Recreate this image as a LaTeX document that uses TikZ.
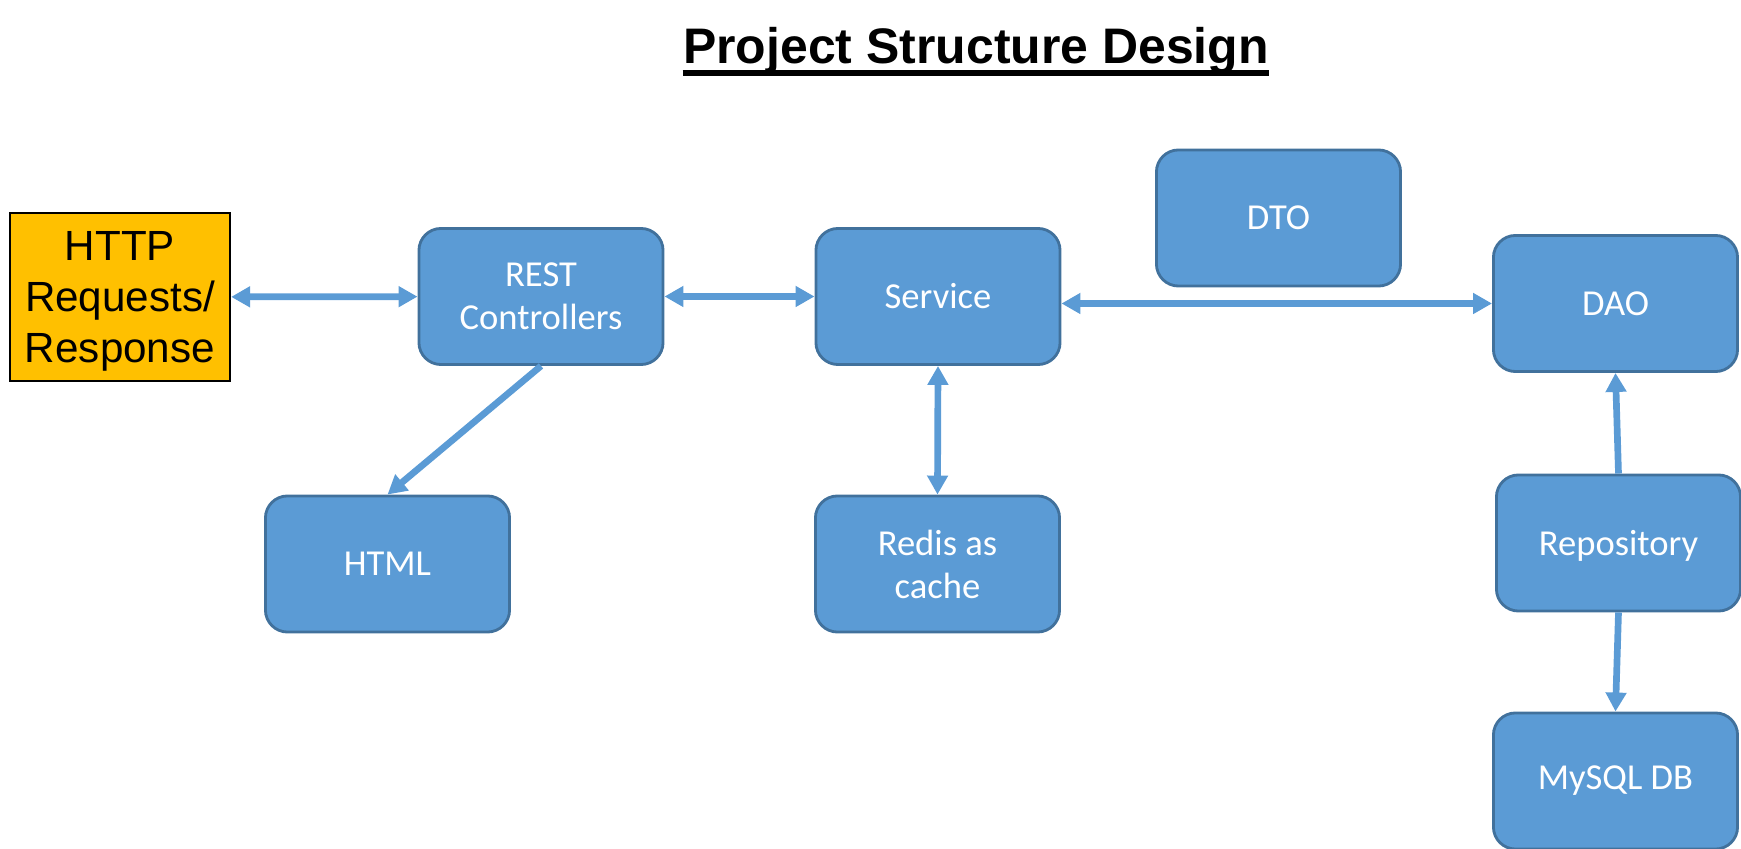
\documentclass[tikz,border=0pt]{standalone}
\usepackage{fontspec}
\setmainfont{Carlito}
\newfontfamily\httpfont{Liberation Sans}
\newfontfamily\titlefont{Liberation Sans}
\usetikzlibrary{arrows.meta, positioning}
\definecolor{boxblue}{HTML}{5B9BD5}
\definecolor{boxline}{HTML}{41719C}
\definecolor{httporange}{HTML}{FFC000}
\tikzset{
  block/.style={draw=boxline, line width=0.8pt, fill=boxblue, rounded corners=0.22cm,
    minimum width=2.44cm, minimum height=1.36cm, inner sep=0pt, align=center,
    text=white, font=\fontsize{10.4pt}{12.2pt}\selectfont},
  link/.style={draw=boxblue, line width=1.9pt, >={Triangle[length=0.19cm,width=0.2cm]}}
}

\begin{document}
\begin{tikzpicture}[x=0.01cm, y=-0.01cm]
  \useasboundingbox (0,0) rectangle (1741,849);
  %tikz project structure
    \node[anchor=base, inner sep=0pt, font=\titlefont\bfseries\fontsize{14.2pt}{17pt}\selectfont] (title) at (976,64) {Project Structure Design};
    \draw[line width=1.45pt] ([yshift=-0.09cm]title.base west) -- ([yshift=-0.09cm]title.base east);

    \node[draw=black, line width=0.6pt, fill=httporange, minimum width=2.2cm, minimum height=1.68cm, inner sep=0pt, align=center, text depth=0pt, font=\httpfont\fontsize{12pt}{14.4pt}\selectfont] (http) at (120,297) {HTTP\\Requests/\\Response};
    \node[block] (rest) at (541,296.5) {REST\\Controllers};
    \node[block] (service) at (938,296.5) {Service};
    \node[block] (dto) at (1278.5,218) {DTO};
    \node[block] (dao) at (1615.5,303.5) {DAO};
    \node[block] (html) at (387.5,564) {HTML};
    \node[block] (redis) at (937.5,564) {Redis as\\cache};
    \node[block, text depth=0pt] (repo) at (1618.5,543) {Repository};
    \node[block] (mysql) at (1615.5,781) {MySQL DB};

    \draw[link, <->] (http) -- (rest);
    \draw[link, <->] (rest) -- (service);
    \draw[link, <->] (service.east |- dao.west) -- (dao.west);
    \draw[link, ->] (rest.south) -- (html.north);
    \draw[link, <->] (service.south) -- (redis.north);
    \draw[link, ->] (repo.north) -- (dao.south);
    \draw[link, ->] (repo.south) -- (mysql.north);
  \end{tikzpicture}
\end{document}
